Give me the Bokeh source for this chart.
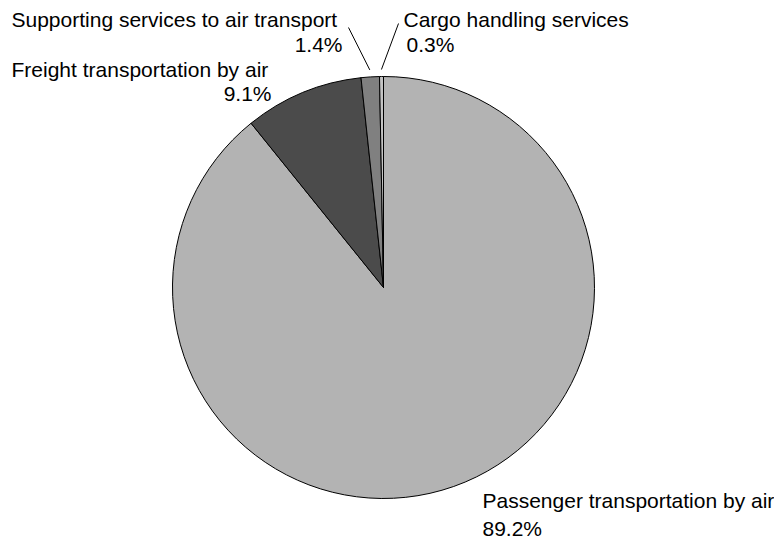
import numpy as np
from bokeh.plotting import figure
from bokeh.models import ColumnDataSource, Range1d
from bokeh.core.properties import value
from bokeh.embed import file_html
from bokeh.resources import INLINE

# ---- data ----
categories = ["Passenger transportation by air", "Freight transportation by air",
              "Supporting services to air transport", "Cargo handling services"]
shares = [89.2, 9.1, 1.4, 0.3]
pct_labels = ["89.2%", "9.1%", "1.4%", "0.3%"]
colors = ["#b3b3b3", "#4b4b4b", "#808080", "#c4c4c4"]

W, H = 774, 540
def X(px):
    return px
def Y(py):
    return H - py

cx, cy, R = X(383), Y(287), 211

vals = np.array(shares, dtype=float)
frac = vals / vals.sum()
cum = np.concatenate([[0], np.cumsum(frac)])
start = np.pi / 2 - 2 * np.pi * cum[:-1]
end = np.pi / 2 - 2 * np.pi * cum[1:]
mid = (start + end) / 2

p = figure(width=W, height=H, output_backend="svg", toolbar_location=None,
           x_range=Range1d(0, W), y_range=Range1d(0, H), min_border=0)
p.axis.visible = False
p.grid.visible = False
p.outline_line_color = None
p.background_fill_color = "white"

src = ColumnDataSource(dict(start=start, end=end, color=colors))
p.wedge(x=cx, y=cy, radius=R, start_angle="start", end_angle="end",
        direction="clock", fill_color="color", line_color="black",
        line_width=1, source=src)

FONT = value("Liberation Sans")
FS = "21px"
DY = 8  # text renders lower than its nominal baseline

def label(px, py, txt, align="left"):
    p.text(x=[X(px)], y=[Y(py - DY)], text=[txt], text_font=FONT, text_font_size=FS,
           text_color="black", text_align=align, text_baseline="alphabetic")

# Passenger (bottom right)
label(482, 508, categories[0])
label(482, 536, pct_labels[0])
# Freight (upper left)
label(11, 77, categories[1])
label(271, 101, pct_labels[1], "right")
# Supporting services
label(11, 27, categories[2])
label(342, 52, pct_labels[2], "right")
# Cargo handling
label(403, 27, categories[3])
label(406, 52, pct_labels[3])

# leader lines
r_in = R + 7
for i, (ox, oy) in [(2, (348, 27)), (3, (398, 23))]:
    ix = cx + r_in * np.cos(mid[i])
    iy = cy + r_in * np.sin(mid[i])
    p.line(x=[X(ox), ix], y=[Y(oy), iy], line_color="black", line_width=1)

open("out.html", "w").write(file_html(p, INLINE))
